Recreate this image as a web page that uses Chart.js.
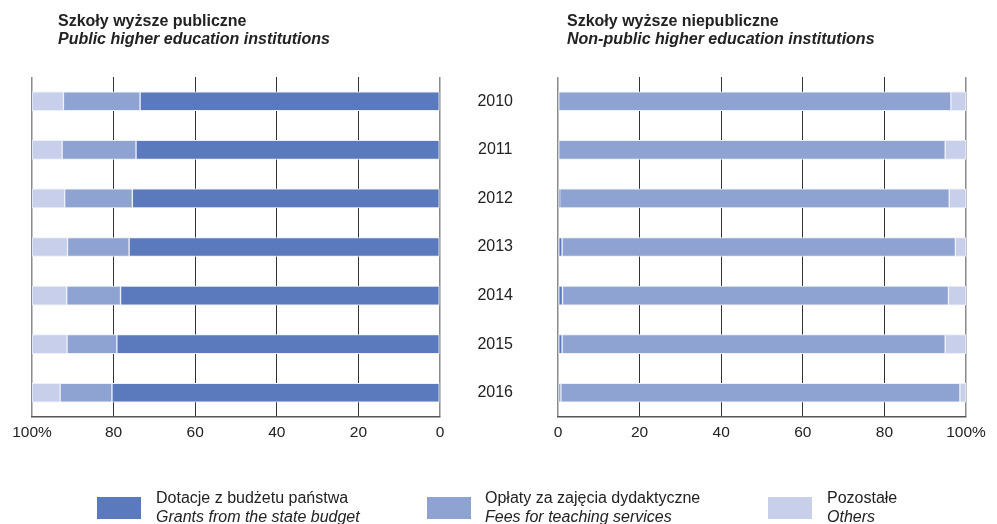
<!DOCTYPE html>
<html lang="pl">
<head>
    <meta charset="UTF-8">
    <title>Struktura przychodów szkół wyższych</title>
    <style>
        body {
            margin: 0;
            background: #fff;
            font-family: "Liberation Sans", Arial, sans-serif;
            color: #222;
        }
        .wrap {
            position: relative;
            width: 997px;
            height: 524px;
            overflow: hidden;
        }
        .wrap canvas {
            position: absolute;
            left: 0;
            top: 0;
        }
        .title {
            position: absolute;
            top: 12px;
            font-size: 16px;
            line-height: 18px;
            font-weight: bold;
            white-space: nowrap;
        }
        .title i, .legend i {
            display: block;
        }
        .legend {
            position: absolute;
            top: 489px;
            font-size: 16px;
            line-height: 18.5px;
            white-space: nowrap;
        }
        .swatch {
            position: absolute;
            top: 497px;
            width: 44px;
            height: 22px;
        }
    </style>
    <script src="https://cdn.jsdelivr.net/npm/chart.js"></script>
</head>
<body>
<div class="wrap">
    <canvas id="left" width="997" height="524"></canvas>
    <canvas id="right" width="997" height="524"></canvas>

    <div class="title" style="left:58px">Szkoły wyższe publiczne<i>Public higher education institutions</i></div>
    <div class="title" style="left:567px">Szkoły wyższe niepubliczne<i>Non-public higher education institutions</i></div>

    <div class="swatch" style="left:97px;background:#5b7abd"></div>
    <div class="legend" style="left:156px">Dotacje z budżetu państwa<i>Grants from the state budget</i></div>
    <div class="swatch" style="left:427px;background:#8fa3d2"></div>
    <div class="legend" style="left:485px">Opłaty za zajęcia dydaktyczne<i>Fees for teaching services</i></div>
    <div class="swatch" style="left:768px;background:#c8cfea"></div>
    <div class="legend" style="left:827px">Pozostałe<i>Others</i></div>
</div>

<script>
    // lata
    const years = ['2010', '2011', '2012', '2013', '2014', '2015', '2016'];

    // szkoły publiczne (%)
    const publicGrants = [73.5, 74.5, 75.4, 76.2, 78.3, 79.2, 80.4];
    const publicFees   = [18.8, 18.1, 16.6, 15.1, 13.2, 12.2, 12.7];
    const publicOther  = [7.7, 7.4, 8.0, 8.7, 8.5, 8.6, 6.9];

    // szkoły niepubliczne (%)
    const privateGrants = [0, 0, 0.4, 1.0, 1.1, 1.0, 0.7];
    const privateFees   = [96.3, 94.9, 95.5, 96.4, 94.6, 93.9, 97.8];
    const privateOther  = [3.7, 5.1, 4.1, 2.6, 4.3, 5.1, 1.5];

    const colors = ['#5b7abd', '#8fa3d2', '#c8cfea'];

    Chart.defaults.font = {family: '"Liberation Sans", Arial, sans-serif', size: 15.5};
    Chart.defaults.color = '#222';

    function makeDatasets(grants, fees, other) {
        return [grants, fees, other].map((d, i) => ({
            data: d,
            backgroundColor: colors[i],
            borderColor: '#eef0f8',
            borderWidth: 1,
            borderSkipped: false,
            barThickness: 19,
        }));
    }

    function isEdge(c) {
        return c.tick && (c.tick.value === 0 || c.tick.value === 100);
    }

    function xScale(reverse) {
        return {
            stacked: true,
            reverse: reverse,
            min: 0,
            max: 100,
            afterFit: s => { s.height = 30; },
            ticks: {
                stepSize: 20,
                padding: 6,
                color: '#222',
                callback: v => v === 100 ? '100%' : v,
            },
            grid: {
                drawTicks: false,
                color: c => isEdge(c) ? '#8a8a8a' : '#333',
                lineWidth: c => isEdge(c) ? 1.5 : 1,
            },
            border: {color: '#555', width: 1.5},
        };
    }

    // lewy wykres - publiczne (oś odwrócona)
    new Chart(document.getElementById('left'), {
        type: 'bar',
        data: {labels: years, datasets: makeDatasets(publicGrants, publicFees, publicOther)},
        options: {
            responsive: false,
            animation: false,
            indexAxis: 'y',
            layout: {padding: {left: 32, right: 557, top: 77, bottom: 77}},
            plugins: {legend: {display: false}, tooltip: {enabled: false}},
            scales: {
                x: xScale(true),
                y: {stacked: true, display: false},
            },
        },
    });

    // prawy wykres - niepubliczne, z latami na osi
    new Chart(document.getElementById('right'), {
        type: 'bar',
        data: {labels: years, datasets: makeDatasets(privateGrants, privateFees, privateOther)},
        options: {
            responsive: false,
            animation: false,
            indexAxis: 'y',
            layout: {padding: {left: 436, right: 31, top: 77, bottom: 77}},
            plugins: {legend: {display: false}, tooltip: {enabled: false}},
            scales: {
                x: xScale(false),
                y: {
                    stacked: true,
                    afterFit: s => { s.width = 122; },
                    ticks: {crossAlign: 'center', padding: 37, color: '#222', font: {size: 16}},
                    grid: {display: false},
                    border: {display: false},
                },
            },
        },
    });
</script>
</body>
</html>
